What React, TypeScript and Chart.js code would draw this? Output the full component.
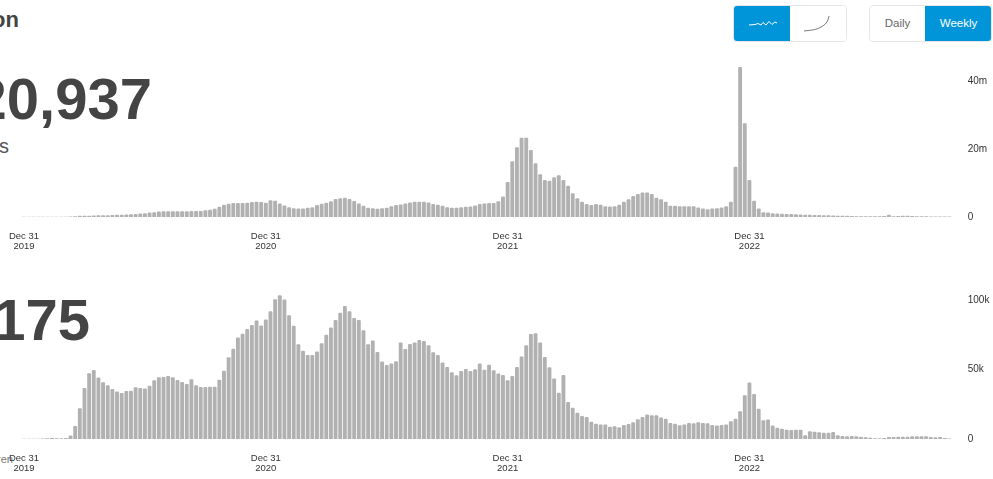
import React, { useEffect, useRef } from "react";
import { Chart, registerables } from "chart.js";

Chart.register(...registerables);

const FONT = '"Liberation Sans", Arial, sans-serif';

const casesMillions = [
  0, 0, 0, 0, 0, 0, 0, 0, 0, 0, 0.02, 0.1,
  0.3, 0.3, 0.3, 0.35, 0.4, 0.4, 0.45, 0.5, 0.55, 0.6, 0.65, 0.7,
  0.8, 0.9, 1, 1.2, 1.3, 1.5, 1.6, 1.6, 1.6, 1.6, 1.6, 1.6, 1.65, 1.7, 1.7, 1.9,
  2.0, 2.3, 2.9, 3.5, 3.8, 4, 4, 4, 4.1, 4.3, 4.4, 4.3, 4.1, 4.8, 4.7, 3.9, 3.3, 2.8, 2.5, 2.4,
  2.4, 2.6, 2.8, 3.4, 3.8, 4.1, 4.5, 5.2, 5.4, 5.6, 5.2, 4.6, 3.9, 3.2, 2.6, 2.45, 2.35, 2.45, 2.65, 3.1,
  3.4, 3.6, 3.9, 4.2, 4.4, 4.4, 4.4, 4.2, 3.7, 3.5, 3.2, 2.8, 2.65, 2.65, 2.75, 2.9, 3, 3.3, 3.7, 3.9,
  4, 4, 4.5, 5.9, 10.2, 16.3, 20.4, 23.2, 23.2, 19.6, 15.7, 12.5, 10.8, 10.6, 11.6, 12.2, 10.8, 9.1, 6.9, 5.4,
  4.4, 3.7, 3.4, 3.7, 3.5, 3.1, 3, 3.1, 3.5, 4.4, 5.1, 6.1, 6.7, 7.1, 7.1, 6.7, 5.6, 5.1, 4.4, 3.2,
  3.2, 3.1, 3.1, 3.1, 3.1, 2.7, 2.4, 2.2, 2.4, 2.5, 2.7, 3.1, 4.4, 14.7, 44, 27.5, 10.8, 4.7, 2.4, 1.3,
  1.2, 1, 0.9, 0.85, 0.8, 0.75, 0.7, 0.65, 0.6, 0.55, 0.5, 0.5, 0.45, 0.4, 0.35, 0.3, 0.3, 0.25, 0.2, 0.15,
  0.15, 0.15, 0.15, 0.15, 0.15, 0.2, 0.6, 0.15, 0.2, 0.3, 0.3, 0.2, 0.1, 0.1, 0.1, 0.05, 0.05, 0.05, 0.05, 0.05,
];

const deathsThousands = [
  0, 0, 0, 0, 0.2, 0.3, 0.4, 0.3, 0.3, 0.4, 2.2, 9.1, 21.8, 36.5, 47, 49.4, 43.9, 40.5, 38.4, 35.7,
  34, 32.9, 34.3, 34.5, 36.9, 36.5, 36, 38.1, 42, 44.1, 44.4, 45.1, 44.1, 42.2, 40.8, 39.3, 42.7, 38.4, 37.2, 37.2,
  37.4, 37.4, 42.4, 48.9, 58.5, 64.7, 72.7, 75.5, 78.9, 81.8, 84.9, 81.3, 85.6, 91.6, 100.2, 103.1, 100, 88.7, 81.1, 67.9,
  63.3, 60.2, 60.2, 62.6, 68.6, 74.8, 79.9, 85.4, 90.6, 95.4, 91.6, 86.8, 85.4, 77.9, 67.9, 70.5, 62.4, 55.4, 53, 54,
  55.6, 69.1, 64.5, 68.1, 69.1, 71, 70.3, 67.1, 62.1, 60.2, 54.7, 51.6, 47.7, 45.6, 48.7, 50.1, 48.7, 49.9, 54, 49.6,
  53.2, 49.2, 46.8, 45.8, 42, 45.1, 51.6, 59, 67.1, 75.3, 75.8, 69.1, 58.8, 51.3, 43.2, 33.1, 45.8, 26.4, 22.3, 18.7,
  16.3, 15.6, 12.2, 10.8, 10.1, 10.1, 8.6, 8.9, 8.2, 9.8, 10.6, 11.8, 13.9, 15.6, 17.3, 16.8, 16.8, 15.3, 14.4, 11.3,
  10.8, 9.6, 10.1, 11.3, 11, 11.8, 11.3, 11, 9.8, 9.4, 9.8, 10.1, 12.5, 14.4, 19.7, 31.2, 40.3, 32.1, 21.6, 13.2,
  13.7, 9.4, 7.9, 7.2, 6.5, 6.2, 6.5, 6.5, 2.4, 5.3, 5, 4.6, 4.3, 4.3, 4.8, 2.4, 1.9, 1.7, 1.9, 1.7,
  1.4, 1, 0.7, 0.3, 0.3, 0.5, 1.2, 1.2, 1.4, 1.4, 1.4, 1.7, 1.7, 1.7, 1.7, 1.2, 1, 1.2, 0.5, 0.2,
];

const yearTickIndexes = [0, 52, 104, 156];
const yearTickLabels = ["2019", "2020", "2021", "2022"];
const weekLabels = casesMillions.map((_, i) => `Week ${i}`);

function makeChart(
  canvas: HTMLCanvasElement,
  values: number[],
  yMax: number,
  yStep: number,
  suffix: string,
  paddingTop: number
) {
  return new Chart(canvas, {
    type: "bar",
    data: {
      labels: weekLabels,
      datasets: [
        {
          data: values,
          backgroundColor: "#b1b1b1",
          barThickness: 3.2,
          borderRadius: 1,
          borderSkipped: "bottom",
        },
      ],
    },
    options: {
      animation: false,
      responsive: false,
      devicePixelRatio: 1,
      layout: { padding: { left: 21.7, top: paddingTop, right: 0, bottom: 0 } },
      plugins: { legend: { display: false }, tooltip: { enabled: false }, title: { display: false } },
      scales: {
        x: {
          type: "category",
          offset: true,
          grid: { display: false, drawTicks: false },
          border: { display: false },
          afterFit: (s: any) => {
            s.height = 33;
            s.paddingLeft = 0;
            s.paddingRight = 0;
          },
          ticks: {
            autoSkip: false,
            maxRotation: 0,
            minRotation: 0,
            padding: 14,
            color: "#333333",
            font: { family: FONT, size: 9.5, lineHeight: 1.05 },
            callback: (_v: any, i: number) => {
              const k = yearTickIndexes.indexOf(i);
              return k < 0 ? null : ["Dec 31", yearTickLabels[k]];
            },
          },
        },
        y: {
          position: "right",
          min: 0,
          max: yMax,
          grid: { display: false, drawTicks: false },
          border: { display: false },
          afterFit: (s: any) => {
            s.width = 41.3;
            s.paddingTop = 0;
            s.paddingBottom = 0;
          },
          ticks: {
            stepSize: yStep,
            padding: 16,
            color: "#333333",
            font: { family: FONT, size: 10 },
            callback: (v: any) => {
              if (v === 0) return "0";
              return v % yStep === 0 ? `${v}${suffix}` : null;
            },
          },
        },
      },
    },
  } as any);
}

const abs = (s: React.CSSProperties): React.CSSProperties => ({ position: "absolute", ...s });

function ClippedText({ text, right, top, size, weight, color }: any) {
  return (
    <div
      style={abs({
        right: 993 - right,
        top,
        fontFamily: FONT,
        fontSize: size,
        fontWeight: weight,
        color,
        lineHeight: 1,
        whiteSpace: "nowrap",
      })}
    >
      {text}
    </div>
  );
}

export default function App() {
  const casesRef = useRef<HTMLCanvasElement>(null);
  const deathsRef = useRef<HTMLCanvasElement>(null);

  useEffect(() => {
    const a = makeChart(casesRef.current!, casesMillions, 46, 20, "m", 10.6);
    const b = makeChart(deathsRef.current!, deathsThousands, 110, 50, "k", 6);
    return () => {
      a.destroy();
      b.destroy();
    };
  }, []);

  return (
    <div style={abs({ left: 0, top: 0, width: 993, height: 479, overflow: "hidden", background: "#fff" })}>
      <ClippedText text="on" right={19} top={9} size={22} weight={700} color="#444" />
      <ClippedText text="20,937" right={152} top={70} size={58} weight={700} color="#444" />
      <ClippedText text="s" right={9} top={136} size={20} weight={400} color="#555" />
      <ClippedText text="175" right={90} top={291} size={58} weight={700} color="#444" />
      <ClippedText text="ren" right={13} top={454} size={11} weight={400} color="#777" />

      <canvas ref={casesRef} width={993} height={200} style={abs({ left: 0, top: 50, display: "block" })} />
      <canvas ref={deathsRef} width={993} height={192} style={abs({ left: 0, top: 280, display: "block" })} />

      <div
        style={abs({
          left: 733,
          top: 5,
          width: 114,
          height: 37,
          boxSizing: "border-box",
          border: "1px solid #e6e6e6",
          borderRadius: 4,
          overflow: "hidden",
          display: "flex",
        })}
      >
        <div style={{ width: 57, marginLeft: -1, marginTop: -1, height: 37, background: "#0095d9", position: "relative" }}>
          <svg width="57" height="37" style={{ display: "block" }}>
            <path
              d="M16 20 L22 19.5 L25 18.5 L28 20 L30 17.5 L33 20 L36 16.5 L39 19.5 L42 17 L44 18"
              fill="none"
              stroke="#fff"
              strokeWidth="1"
            />
          </svg>
        </div>
        <div style={{ flex: 1, background: "#fff" }}>
          <svg width="57" height="37" style={{ display: "block" }}>
            <path d="M14 25 C22 24 26 24 31 21 C35 19 38 16 39 10" fill="none" stroke="#777" strokeWidth="1" />
          </svg>
        </div>
      </div>

      <div
        style={abs({
          left: 869,
          top: 5,
          width: 123,
          height: 37,
          boxSizing: "border-box",
          border: "1px solid #e6e6e6",
          borderRadius: 4,
          overflow: "hidden",
          display: "flex",
          fontFamily: FONT,
          fontSize: 11.5,
        })}
      >
        <div style={{ width: 55, lineHeight: "35px", textAlign: "center", color: "#666", background: "#fff" }}>Daily</div>
        <div
          style={{
            flex: 1,
            margin: "-1px -1px -1px 0",
            lineHeight: "37px",
            textAlign: "center",
            color: "#fff",
            background: "#0095d9",
          }}
        >
          Weekly
        </div>
      </div>
    </div>
  );
}
